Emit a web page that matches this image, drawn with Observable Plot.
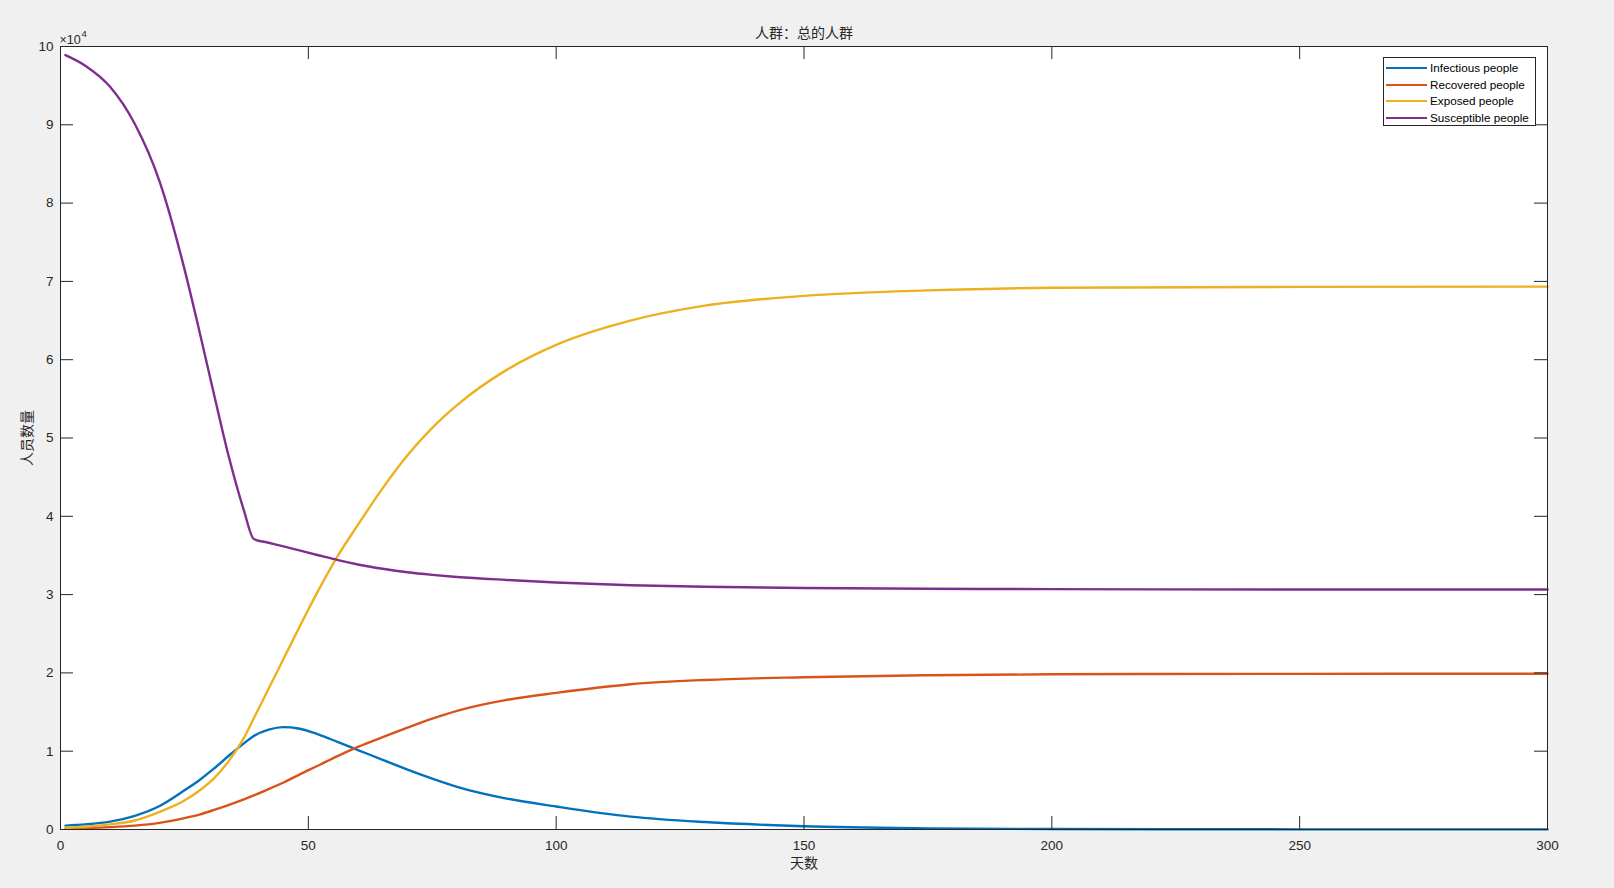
<!DOCTYPE html>
<html>
<head>
<meta charset="utf-8">
<script src="https://cdn.jsdelivr.net/npm/d3@7"></script>
<script src="https://cdn.jsdelivr.net/npm/@observablehq/plot@0.6"></script>
<style>
  html, body { margin: 0; padding: 0; background: #f0f0f0; }
  #wrap { position: relative; width: 1614px; height: 888px; overflow: hidden; }
  #legend { position: absolute; left: 1383px; top: 57px; width: 151px; height: 67px;
            background: #fff; border: 1px solid #262626;
            font: 11.7px Arial, "Liberation Sans", sans-serif; color: #000; }
  .row { position: absolute; left: 0; height: 14px; width: 151px; }
  .swatch { position: absolute; left: 2px; top: 6px; width: 41px; height: 2.4px; }
  .lab { position: absolute; left: 46px; top: 0; line-height: 14px; white-space: nowrap; }
</style>
</head>
<body>
<div id="wrap"><div id="legend"></div></div>
<script>
// ---- data ----
const days = [1, 5, 10, 15, 20, 25, 28, 31, 34, 37, 39, 42, 45, 48, 52, 56, 60, 65, 70, 75, 80, 90, 100, 115, 130, 150, 175, 200, 250, 300];
const infectious  = [500, 650, 1000, 1750, 3000, 5000, 6300, 7800, 9450, 11000, 11950, 12750, 13070, 12900, 12150, 11150, 10150, 8900, 7650, 6500, 5450, 3950, 2940, 1650, 950, 420, 150, 60, 20, 10];
const recovered   = [100, 170, 300, 500, 850, 1450, 1900, 2500, 3150, 3850, 4350, 5150, 6000, 6950, 8170, 9400, 10550, 11800, 13000, 14150, 15150, 16550, 17450, 18550, 19100, 19450, 19700, 19820, 19880, 19900];
const exposed     = [200, 350, 650, 1150, 2250, 3700, 4950, 6550, 8800, 11700, 14200, 18000, 21800, 25600, 30500, 35000, 38900, 43600, 47800, 51300, 54200, 58700, 61900, 65000, 66900, 68150, 68850, 69180, 69300, 69330];
const susceptible = [98900, 97550, 94850, 90100, 82750, 71600, 63700, 55500, 47500, 40750, 37100, 36620, 36150, 35670, 35030, 34400, 33850, 33300, 32850, 32520, 32250, 31870, 31550, 31200, 31000, 30850, 30750, 30700, 30650, 30650];

const seriesNames  = ["Infectious people", "Recovered people", "Exposed people", "Susceptible people"];
const seriesColors = ["#0072BD", "#D95319", "#EDB120", "#7E2F8E"];
const seriesValues = [infectious, recovered, exposed, susceptible];

const xTicks = [0, 50, 100, 150, 200, 250, 300];
const yTicks = [0, 10000, 20000, 30000, 40000, 50000, 60000, 70000, 80000, 90000, 100000];

const titleText = "人群：总的人群";
const xLabel = "天数";
const yLabel = "人员数量";
const expBase = "×10";
const expPow = "4";

// ---- build table ----
const rows = seriesNames.flatMap((name, s) =>
  days.map((d, i) => ({day: d, value: seriesValues[s][i], name})));

const W = 1614, H = 888, mL = 60, mR = 67, mT = 46, mB = 59;
const innerW = W - mL - mR, innerH = H - mT - mB, tk = 13;
const axisColor = "#262626";
const font = "Arial, 'Liberation Sans', Helvetica, sans-serif";
const cjk = "'Noto Sans CJK SC', 'Noto Sans', sans-serif";

const chart = Plot.plot({
  width: W, height: H,
  marginLeft: mL, marginRight: mR, marginTop: mT, marginBottom: mB,
  style: {background: "#f0f0f0", fontFamily: font, fontSize: "13.5px", color: axisColor, overflow: "visible"},
  x: {domain: [0, 300]},
  y: {domain: [0, 100000]},
  color: {domain: seriesNames, range: seriesColors},
  marks: [
    Plot.frame({fill: "white", stroke: "none"}),
    Plot.lineY(rows, {x: "day", y: "value", stroke: "name", z: "name", strokeWidth: 2.4, curve: "monotone-x"}),
    Plot.frame({stroke: axisColor, strokeWidth: 1}),
    Plot.tickX(xTicks, {x: d => d, insetTop: innerH - tk, stroke: axisColor}),
    Plot.tickX(xTicks, {x: d => d, insetBottom: innerH - tk, stroke: axisColor}),
    Plot.tickY(yTicks, {y: d => d, insetRight: innerW - tk, stroke: axisColor}),
    Plot.tickY(yTicks, {y: d => d, insetLeft: innerW - tk, stroke: axisColor}),
    Plot.axisX({ticks: xTicks, tickSize: 0, tickPadding: 11, label: null, tickFormat: d => String(d)}),
    Plot.axisY({ticks: yTicks, tickSize: 0, tickPadding: 7, label: null, tickFormat: d => String(d / 1e4)}),
    Plot.text([titleText], {text: d => d, frameAnchor: "top", dy: -13, lineAnchor: "middle", fontSize: 14, fontFamily: cjk, fill: axisColor}),
    Plot.text([xLabel], {text: d => d, frameAnchor: "bottom", dy: 34, lineAnchor: "middle", fontSize: 14, fontFamily: cjk, fill: axisColor}),
    Plot.text([yLabel], {text: d => d, frameAnchor: "left", dx: -33, textAnchor: "middle", rotate: -90, fontSize: 14, fontFamily: cjk, fill: axisColor}),
    Plot.text([expBase], {text: d => d, frameAnchor: "top-left", dy: -3, dx: -1, textAnchor: "start", lineAnchor: "bottom", fontSize: 12.5, fill: axisColor}),
    Plot.text([expPow], {text: d => d, frameAnchor: "top-left", dy: -10, dx: 21, textAnchor: "start", lineAnchor: "bottom", fontSize: 9.5, fill: axisColor})
  ]
});
document.getElementById("wrap").prepend(chart);

// ---- legend ----
const legend = document.getElementById("legend");
seriesNames.forEach((name, i) => {
  const r = document.createElement("div");
  r.className = "row";
  r.style.top = (3 + i * 16.5) + "px";
  r.innerHTML = `<div class="swatch" style="background:${seriesColors[i]}"></div><div class="lab">${name}</div>`;
  legend.appendChild(r);
});
</script>
</body>
</html>
